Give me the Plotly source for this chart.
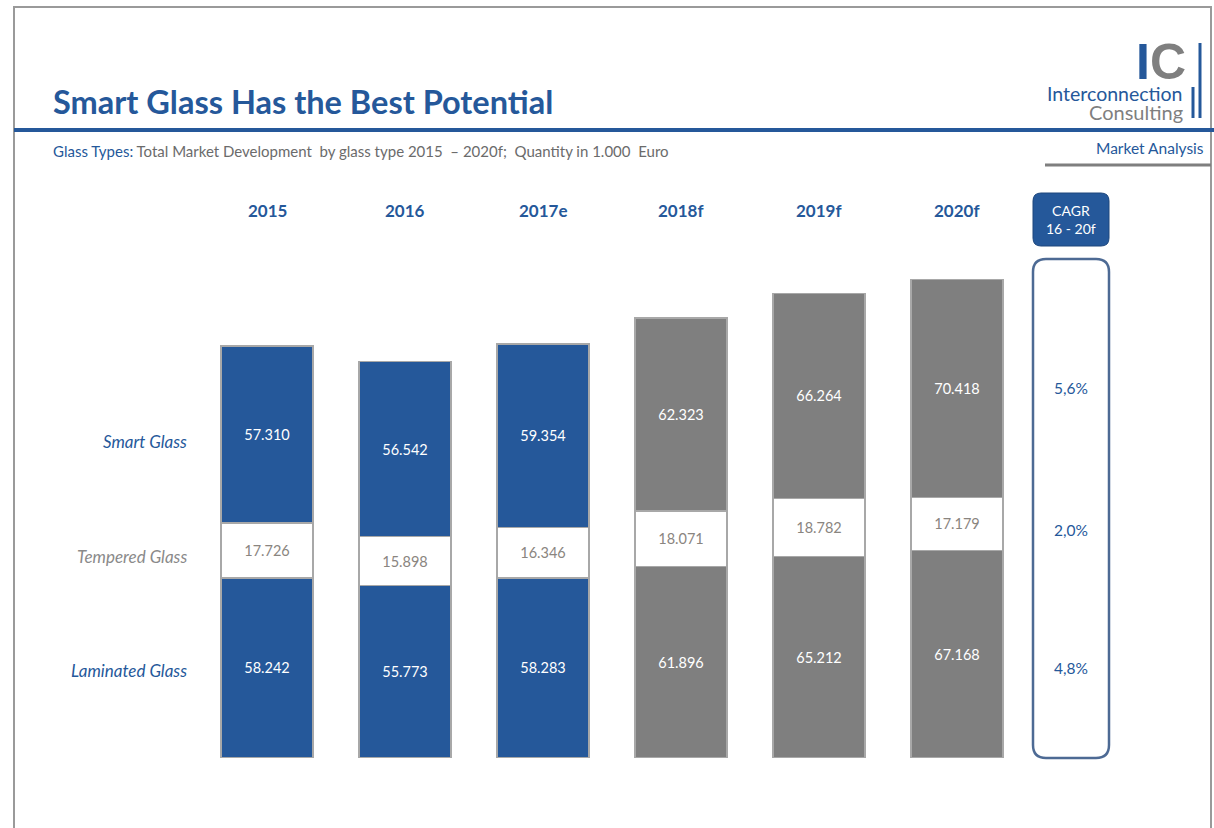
import plotly.graph_objects as go

# ---- data ----
years = ["2015", "2016", "2017e", "2018f", "2019f", "2020f"]
smart = [57310, 56542, 59354, 62323, 66264, 70418]
tempered = [17726, 15898, 16346, 18071, 18782, 17179]
laminated = [58242, 55773, 58283, 61896, 65212, 67168]
series_names = ["Smart Glass", "Tempered Glass", "Laminated Glass"]
cagr_values = ["5,6%", "2,0%", "4,8%"]
cagr_header = "CAGR<br>16 - 20f"

# ---- style ----
BLUE = "#25589a"
GRAY = "#7f7f7f"
EDGE = "#a8a8a8"
FONT = "Lato"

W_FIG, H_FIG = 1214, 828
L, R, T, B = 198, 1026, 260, 758
PW, PH = R - L, B - T


def xp(px):
    return (px - L) / PW


def yp(py):
    return (B - py) / PH


def fmt(v):
    return f"{v:,}".replace(",", ".")


is_fc = [y.endswith("f") for y in years]
dark_cols = [GRAY if f else BLUE for f in is_fc]

fig = go.Figure()
fig.add_trace(go.Bar(
    x=years, y=laminated, name=series_names[2],
    marker=dict(color=dark_cols, line=dict(color=EDGE, width=1.5)),
    text=[fmt(v) for v in laminated], textposition="inside",
    insidetextanchor="middle", textangle=0,
    textfont=dict(family=FONT, size=14.5, color="white"),
))
fig.add_trace(go.Bar(
    x=years, y=tempered, name=series_names[1],
    marker=dict(color="white", line=dict(color=EDGE, width=1.5)),
    text=[fmt(v) for v in tempered], textposition="inside",
    insidetextanchor="middle", textangle=0,
    textfont=dict(family=FONT, size=14.5, color="#8a8580"),
))
fig.add_trace(go.Bar(
    x=years, y=smart, name=series_names[0],
    marker=dict(color=dark_cols, line=dict(color=EDGE, width=1.5)),
    text=[fmt(v) for v in smart], textposition="inside",
    insidetextanchor="middle", textangle=0,
    textfont=dict(family=FONT, size=14.5, color="white"),
))

ann = []


def note(px, py, text, size, color, xanchor="center", family=FONT, xref="paper", x=None):
    ann.append(dict(x=xp(px) if x is None else x, xref=xref, y=yp(py), yref="paper",
                    text=text, showarrow=False, xanchor=xanchor, yanchor="middle",
                    font=dict(family=family, size=size, color=color)))


# year labels
for i, y in enumerate(years):
    note(None, 210, f"<b>{y}</b>", 17, BLUE, xref="x", x=i)
# series labels
for name, py, col in zip(series_names, [441, 556, 670], [BLUE, "#8a8a8a", BLUE]):
    note(189, py, f"<i>{name}</i>", 17, col, xanchor="right")
# CAGR values
for val, py in zip(cagr_values, [388, 530, 668]):
    note(1071, py, val, 15.5, BLUE)
note(1071, 219, cagr_header, 14, "white")
# title & subtitle
note(51, 101, "<b>Smart Glass Has the Best Potential</b>", 32.5, BLUE, xanchor="left")
note(51, 151, f"<span style='color:{BLUE}'>Glass Types:</span> Total Market Development  by glass type 2015  \u2013 2020f;  Quantity in 1.000  Euro",
     15, "#6b6b6b", xanchor="left")
# logo
note(1188, 62, f"<b><span style='color:{BLUE}'>I</span><span style='color:{GRAY}'>C</span></b>",
     50, GRAY, xanchor="right", family="Liberation Sans")
note(1185, 93, "Interconnection", 19.5, BLUE, xanchor="right")
note(1185, 112, "Consulting", 20, GRAY, xanchor="right")
note(1206, 148, "Market Analysis", 15.5, BLUE, xanchor="right")


def rrect(x0, y0, x1, y1, r):
    rx, ry = r / PW, r / PH
    X0, X1 = xp(x0), xp(x1)
    Y0, Y1 = yp(y0), yp(y1)  # Y0 top (larger), Y1 bottom
    return (f"M {X0+rx},{Y0} L {X1-rx},{Y0} Q {X1},{Y0} {X1},{Y0-ry} "
            f"L {X1},{Y1+ry} Q {X1},{Y1} {X1-rx},{Y1} L {X0+rx},{Y1} "
            f"Q {X0},{Y1} {X0},{Y1+ry} L {X0},{Y0-ry} Q {X0},{Y0} {X0+rx},{Y0} Z")


shapes = [
    # outer frame
    dict(type="rect", xref="paper", yref="paper", x0=xp(14), x1=xp(1211), y0=yp(7), y1=yp(840),
         line=dict(color="#9a9a9a", width=2), layer="below"),
    # blue rule under title
    dict(type="line", xref="paper", yref="paper", x0=xp(14), x1=xp(1214), y0=yp(130), y1=yp(130),
         line=dict(color=BLUE, width=4)),
    # gray rule under market analysis
    dict(type="line", xref="paper", yref="paper", x0=xp(1045), x1=xp(1211), y0=yp(165), y1=yp(165),
         line=dict(color=GRAY, width=3)),
    # logo vertical bars
    dict(type="line", xref="paper", yref="paper", x0=xp(1200), x1=xp(1200), y0=yp(43), y1=yp(118),
         line=dict(color=BLUE, width=3)),
    dict(type="line", xref="paper", yref="paper", x0=xp(1193), x1=xp(1193), y0=yp(87), y1=yp(118),
         line=dict(color=BLUE, width=3)),
    # CAGR header box
    dict(type="path", xref="paper", yref="paper", path=rrect(1033, 193, 1109, 246, 8),
         fillcolor=BLUE, line=dict(color="#1e477d", width=1), layer="below"),
    # CAGR outline box
    dict(type="path", xref="paper", yref="paper", path=rrect(1033, 259, 1109, 758, 13),
         line=dict(color="#4d6a94", width=2.5), layer="below"),
]

fig.update_layout(
    width=W_FIG, height=H_FIG,
    margin=dict(l=L, r=W_FIG - R, t=T, b=H_FIG - B),
    barmode="stack", bargap=1 - 92 / 138,
    showlegend=False,
    plot_bgcolor="rgba(0,0,0,0)", paper_bgcolor="white",
    xaxis=dict(visible=False, range=[-0.5, 5.5]),
    yaxis=dict(visible=False, range=[0, PH / 0.003091]),
    annotations=ann, shapes=shapes,
    font=dict(family=FONT),
)

fig.write_html("out.html", config={"displayModeBar": False},
               post_script="document.body.style.margin='0';document.body.style.overflow='hidden';")
